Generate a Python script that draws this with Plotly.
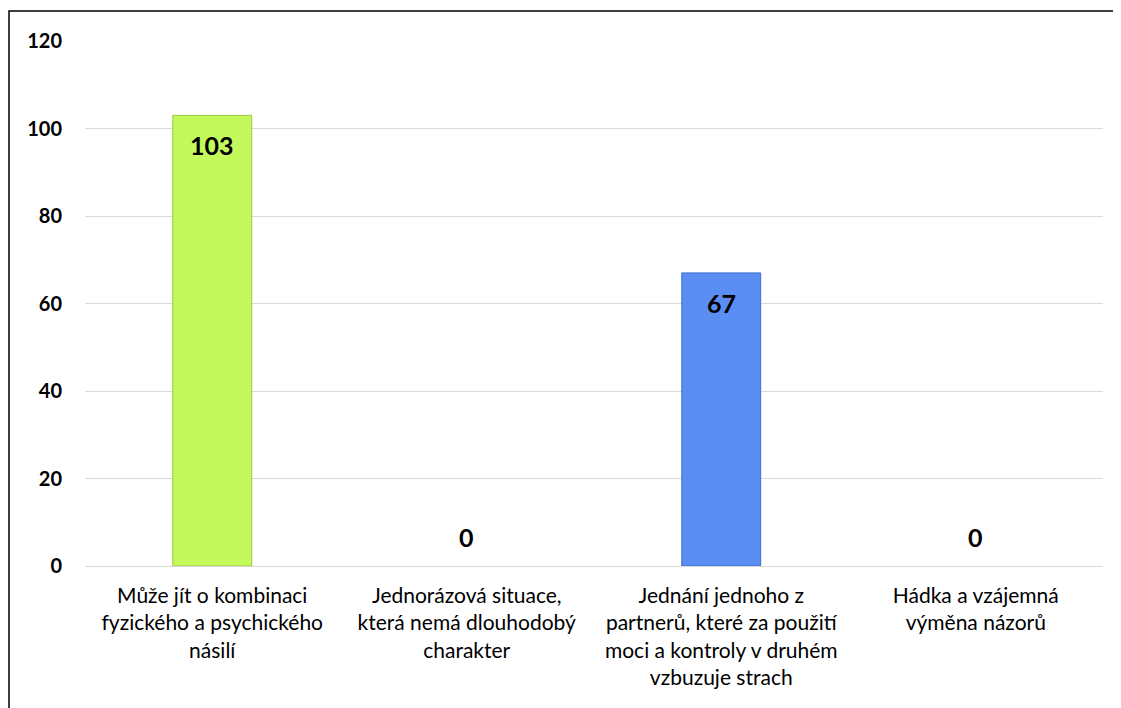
import plotly.graph_objects as go

categories = [
    "Může jít o kombinaci<br>fyzického a psychického<br>násilí",
    "Jednorázová situace,<br>která nemá dlouhodobý<br>charakter",
    "Jednání jednoho z<br>partnerů, které za použití<br>moci a kontroly v druhém<br>vzbuzuje strach",
    "Hádka a vzájemná<br>výměna názorů",
]
values = [103, 0, 67, 0]
barColors = ["#C3F95B", "#C3F95B", "#5B8EF3", "#5B8EF3"]
lineColors = ["#9CC83F", "#9CC83F", "#4070CC", "#4070CC"]

# the page body adds an 8px margin, so the figure is drawn 8px smaller
W, H = 1113, 700
mL, mR, mT, mB = 77, 18, 33, 142
plotW = W - mL - mR
plotH = H - mT - mB

fig = go.Figure()
fig.add_trace(go.Bar(
    x=categories,
    y=values,
    marker=dict(color=barColors,
                line=dict(color=lineColors, width=[1 if v > 0 else 0 for v in values])),
    hoverinfo="x+y",
))

# data labels: inside near the top for bars, above the axis for zeros
for cat, val in zip(categories, values):
    fig.add_annotation(
        x=cat, y=val, text=f"<b>{val}</b>", showarrow=False,
        yshift=-30 if val > 0 else 29,
        font=dict(family="Lato", size=25, color="black"),
    )

# outer chart border (partly cut off by the window)
fig.add_shape(
    type="rect", xref="paper", yref="paper",
    x0=(1 - mL) / plotW, x1=(W + 20 - mL) / plotW,
    y0=-(mB + 20) / plotH, y1=1 + (mT - 3) / plotH,
    line=dict(color="black", width=1.5), fillcolor="rgba(0,0,0,0)",
    layer="below",
)

fig.update_layout(
    width=W, height=H,
    margin=dict(l=mL, r=mR, t=mT, b=mB),
    paper_bgcolor="white", plot_bgcolor="white",
    bargap=0.69,
    showlegend=False,
    font=dict(family="Lato", color="black"),
)
fig.update_yaxes(
    range=[0, 120], dtick=20, showgrid=True, gridcolor="#D9D9D9", gridwidth=1,
    zeroline=True, zerolinecolor="#D9D9D9", zerolinewidth=1,
    tickfont=dict(family="Lato", size=20, color="black", weight="bold"),
    ticklabelstandoff=22, showline=False, fixedrange=True,
)
fig.update_xaxes(
    tickfont=dict(family="Lato", size=21, color="black"),
    tickangle=0, showline=False, ticklabelstandoff=15, fixedrange=True,
)

fig.write_html("out.html")
